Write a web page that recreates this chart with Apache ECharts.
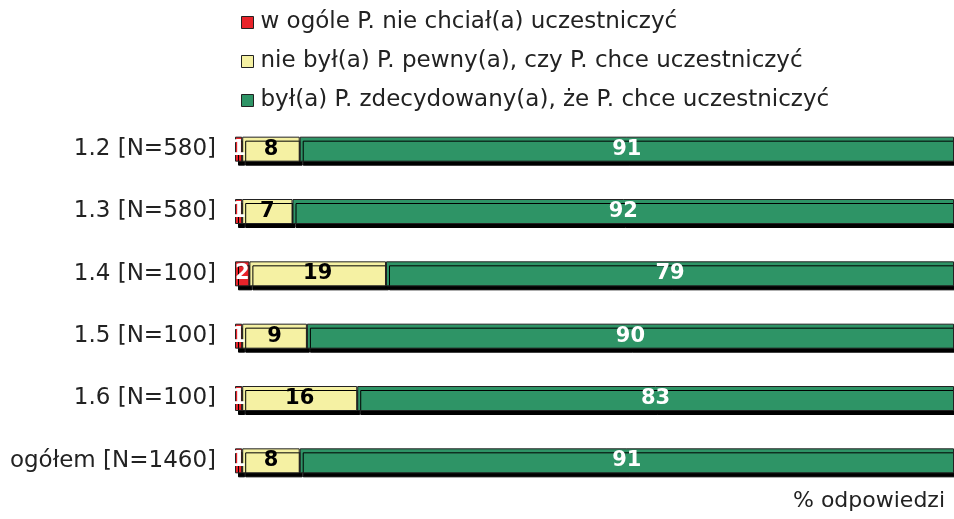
<!DOCTYPE html>
<html><head><meta charset="utf-8">
<script src="https://cdn.jsdelivr.net/npm/echarts@6/dist/echarts.min.js"></script>
<style>html,body{margin:0;padding:0;background:#fff}#c{width:954px;height:519px}</style>
</head><body><div id="c"></div>
<script>
const categories = ['1.2 [N=580]', '1.3 [N=580]', '1.4 [N=100]', '1.5 [N=100]', '1.6 [N=100]', 'ogółem [N=1460]'];
const seriesNames = ['w ogóle P. nie chciał(a) uczestniczyć', 'nie był(a) P. pewny(a), czy P. chce uczestniczyć', 'był(a) P. zdecydowany(a), że P. chce uczestniczyć'];
const notWanted = [1, 1, 2, 1, 1, 1];
const unsure = [8, 7, 19, 9, 16, 8];
const decided = [91, 92, 79, 90, 83, 91];
const colors = ['#e8232a', '#f5f1a3', '#2e9466'];
const labelColors = ['#ffffff', '#000000', '#ffffff'];
const values = [notWanted, unsure, decided];
const FONT = 'DejaVu Sans';

const chart = echarts.init(document.getElementById('c'), null, {renderer: 'canvas'});
chart.setOption({
  animation: false,
  textStyle: {fontFamily: FONT},
  title: {
    text: '% odpowiedzi', right: 4, bottom: 2,
    textStyle: {fontFamily: FONT, fontSize: 22, fontWeight: 'normal', color: '#222'}
  },
  legend: {
    orient: 'vertical', left: 236, top: 6, itemGap: 16,
    itemWidth: 12, itemHeight: 12, icon: 'rect',
    textStyle: {fontFamily: FONT, fontSize: 23, color: '#222', padding: [0, 0, 0, 2]},
    itemStyle: {borderColor: '#222', borderWidth: 1}
  },
  grid: {left: 235, right: 0, top: 118, bottom: 27},
  xAxis: {type: 'value', min: 0, max: 100, show: false},
  yAxis: {
    type: 'category', data: categories, inverse: true,
    axisLine: {show: false}, axisTick: {show: false},
    axisLabel: {fontFamily: FONT, fontSize: 23, color: '#222', margin: 19}
  },
  series: seriesNames.map((n, i) => ({
    name: n, type: 'bar', stack: 'a', data: values[i], barWidth: 25,
    itemStyle: {color: colors[i], borderColor: '#222', borderWidth: 1,
      shadowColor: '#000', shadowOffsetX: 3, shadowOffsetY: 4, shadowBlur: 0},
    label: {show: true, position: 'inside', fontFamily: FONT, fontSize: 21, fontWeight: 'bold', color: labelColors[i]}
  }))
});
</script></body></html>
